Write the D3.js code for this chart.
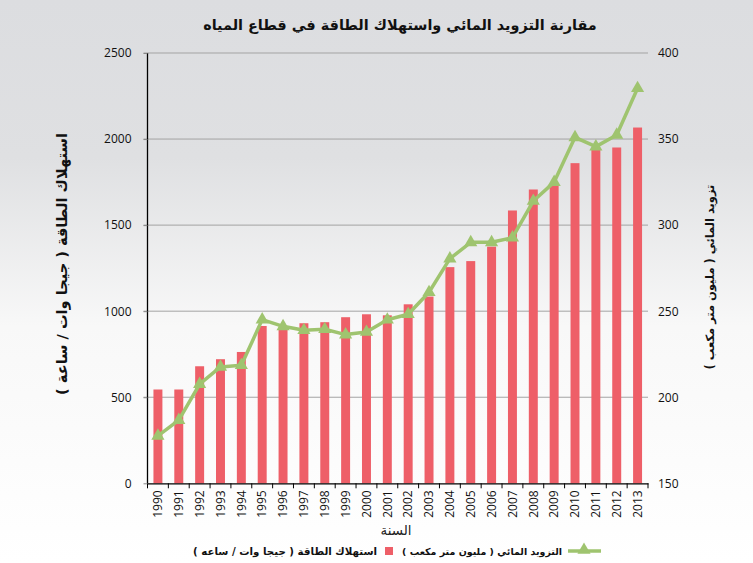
<!DOCTYPE html>
<html>
<head>
<meta charset="utf-8">
<script src="https://cdn.jsdelivr.net/npm/d3@7"></script>
<style>
  body { margin: 0; background: #fff; }
  svg text { font-family: "Open Sans", "DejaVu Sans", sans-serif; }
  .ar { font-family: "DejaVu Sans", sans-serif; direction: rtl; unicode-bidi: embed; }
</style>
</head>
<body>
<div id="chart"></div>
<script>
// data
const years = ["1990","1991","1992","1993","1994","1995","1996","1997","1998","1999","2000","2001",
  "2002","2003","2004","2005","2006","2007","2008","2009","2010","2011","2012","2013"];
const energy = [545, 545, 680, 721, 763, 914, 905, 930, 936, 965, 982, 976,
  1040, 1085, 1256, 1291, 1375, 1585, 1707, 1735, 1860, 1940, 1951, 2067];
const water = [177.5, 186.7, 207.6, 217.6, 218.6, 245.1, 241.2, 238.9, 239.5, 236.4, 237.9, 245,
  248.2, 261, 280.5, 290, 290, 292.7, 314, 325, 351, 345.6, 352.4, 379.5];
const leftTicks = [0, 500, 1000, 1500, 2000, 2500];
const rightTicks = [150, 200, 250, 300, 350, 400];

const title = "مقارنة التزويد المائي واستهلاك الطاقة في قطاع المياه";
const leftTitle = "استهلاك الطاقة ( جيجا وات / ساعة )";
const rightTitle = "تزويد المائي ( مليون متر مكعب )";
const xTitle = "السنة";
const energyName = "استهلاك الطاقة ( جيجا وات / ساعه )";
const waterName = "التزويد المائي ( مليون متر مكعب )";

const W = 753, H = 563;
const m = { top: 53, right: 105, bottom: 80, left: 147.5 };
const pw = 648 - m.left, ph = 483.3 - m.top;
const barColor = "#ee5f68", lineColor = "#9fc46f";

const svg = d3.select("#chart").append("svg")
  .attr("width", W).attr("height", H);

let grad = svg.append("defs").append("linearGradient")
  .attr("id", "bg").attr("x1", 0).attr("y1", 0).attr("x2", 0).attr("y2", 1);
grad.append("stop").attr("offset", "0%").attr("stop-color", "#dcdde0");
grad.append("stop").attr("offset", "28%").attr("stop-color", "#dfe0e2");
grad.append("stop").attr("offset", "58%").attr("stop-color", "#f8f8f8");
grad.append("stop").attr("offset", "100%").attr("stop-color", "#ffffff");
svg.append("rect").attr("width", W).attr("height", H).attr("fill", "url(#bg)");

// shrink/grow a text so that it covers the given width
function fit(sel, width) {
  let fs = +sel.attr("font-size");
  let len = sel.node().getComputedTextLength();
  sel.attr("font-size", (fs * width / len).toFixed(2));
  return sel;
}

const g = svg.append("g").attr("transform", "translate(" + m.left + "," + m.top + ")");

const x = d3.scaleBand().domain(years).range([0, pw]).paddingInner(0.57).paddingOuter(0.285);
const xb = d3.scaleBand().domain(years).range([0, pw]);
const y = d3.scaleLinear().domain([0, 2500]).range([ph, 0]);
const y2 = d3.scaleLinear().domain([150, 400]).range([ph, 0]);

// grid
g.append("g").selectAll("line").data(leftTicks.slice(1)).enter().append("line")
  .attr("x1", -4).attr("x2", pw)
  .attr("y1", d => y(d)).attr("y2", d => y(d))
  .attr("stroke", "#a3a3a3").attr("stroke-width", 1);

// left axis
const yAxis = g.append("g").call(d3.axisLeft(y).tickValues(leftTicks).tickFormat(d3.format("d")).tickSize(4).tickPadding(12));
yAxis.select(".domain").attr("stroke", "#000").attr("stroke-width", 1.3).attr("d", "M0," + ph + "V0");
yAxis.selectAll(".tick line").attr("stroke", "#888");
yAxis.selectAll("text").attr("font-size", 12).attr("fill", "#111");

// right axis
const yAxis2 = g.append("g").attr("transform", "translate(" + pw + ",0)")
  .call(d3.axisRight(y2).tickValues(rightTicks).tickSize(0).tickPadding(10));
yAxis2.select(".domain").remove();
yAxis2.selectAll("text").attr("font-size", 12).attr("fill", "#111");

// bars
g.selectAll(".bar").data(energy).enter().append("rect")
  .attr("class", "bar")
  .attr("x", (d, i) => x(years[i]))
  .attr("width", x.bandwidth())
  .attr("y", d => y(d))
  .attr("height", d => ph - y(d))
  .attr("fill", barColor);

// x axis
const xAxis = g.append("g").attr("transform", "translate(0," + ph + ")")
  .call(d3.axisBottom(xb).tickSize(0));
xAxis.select(".domain").attr("stroke", "#000").attr("stroke-width", 1.3);
xAxis.selectAll("text")
  .attr("font-size", 12).attr("fill", "#111")
  .attr("transform", "rotate(-90)")
  .attr("text-anchor", "end")
  .attr("dy", "0.35em")
  .attr("x", -7).attr("y", 0);
g.append("g").selectAll("line").data(d3.range(years.length + 1)).enter().append("line")
  .attr("x1", d => d * xb.step()).attr("x2", d => d * xb.step())
  .attr("y1", ph).attr("y2", ph + 5)
  .attr("stroke", "#000").attr("stroke-width", 1);

// line + markers
const line = d3.line()
  .x((d, i) => xb(years[i]) + xb.bandwidth() / 2)
  .y(d => y2(d));
g.append("path").datum(water)
  .attr("d", line)
  .attr("fill", "none")
  .attr("stroke", lineColor)
  .attr("stroke-width", 3.5)
  .attr("stroke-linejoin", "round");
const tri = d3.symbol().type(d3.symbolTriangle).size(75);
g.selectAll(".mk").data(water).enter().append("path")
  .attr("class", "mk")
  .attr("d", tri)
  .attr("transform", (d, i) => "translate(" + (xb(years[i]) + xb.bandwidth() / 2) + "," + y2(d) + ")")
  .attr("fill", lineColor);

// titles
fit(svg.append("text").attr("class", "ar")
  .attr("x", 400).attr("y", 30)
  .attr("text-anchor", "middle")
  .attr("font-size", 15).attr("font-weight", "bold")
  .attr("fill", "#111")
  .text(title), 394);

fit(svg.append("text").attr("class", "ar")
  .attr("transform", "translate(67,264) rotate(-90)")
  .attr("text-anchor", "middle")
  .attr("font-size", 12.5).attr("font-weight", "bold")
  .attr("fill", "#111")
  .text(leftTitle), 262);

fit(svg.append("text").attr("class", "ar")
  .attr("transform", "translate(714,277) rotate(-90)")
  .attr("text-anchor", "middle")
  .attr("font-size", 12.5).attr("font-weight", "bold")
  .attr("fill", "#111")
  .text(rightTitle), 185);

fit(svg.append("text").attr("class", "ar")
  .attr("x", 396).attr("y", 535)
  .attr("text-anchor", "middle")
  .attr("font-size", 10)
  .attr("fill", "#222")
  .text(xTitle), 31);

// legend
const lg = svg.append("g");
lg.append("line").attr("x1", 568).attr("x2", 601).attr("y1", 551).attr("y2", 551)
  .attr("stroke", lineColor).attr("stroke-width", 3.5);
lg.append("path").attr("d", tri).attr("transform", "translate(584,550)").attr("fill", lineColor);
fit(lg.append("text").attr("class", "ar")
  .attr("x", 482).attr("y", 555)
  .attr("text-anchor", "middle")
  .attr("font-size", 11.5).attr("font-weight", "bold").attr("fill", "#111")
  .text(waterName), 160);
lg.append("rect").attr("x", 385).attr("y", 547).attr("width", 8).attr("height", 8).attr("fill", barColor);
fit(lg.append("text").attr("class", "ar")
  .attr("x", 285).attr("y", 555)
  .attr("text-anchor", "middle")
  .attr("font-size", 11.5).attr("font-weight", "bold").attr("fill", "#111")
  .text(energyName), 184);
</script>
</body>
</html>
